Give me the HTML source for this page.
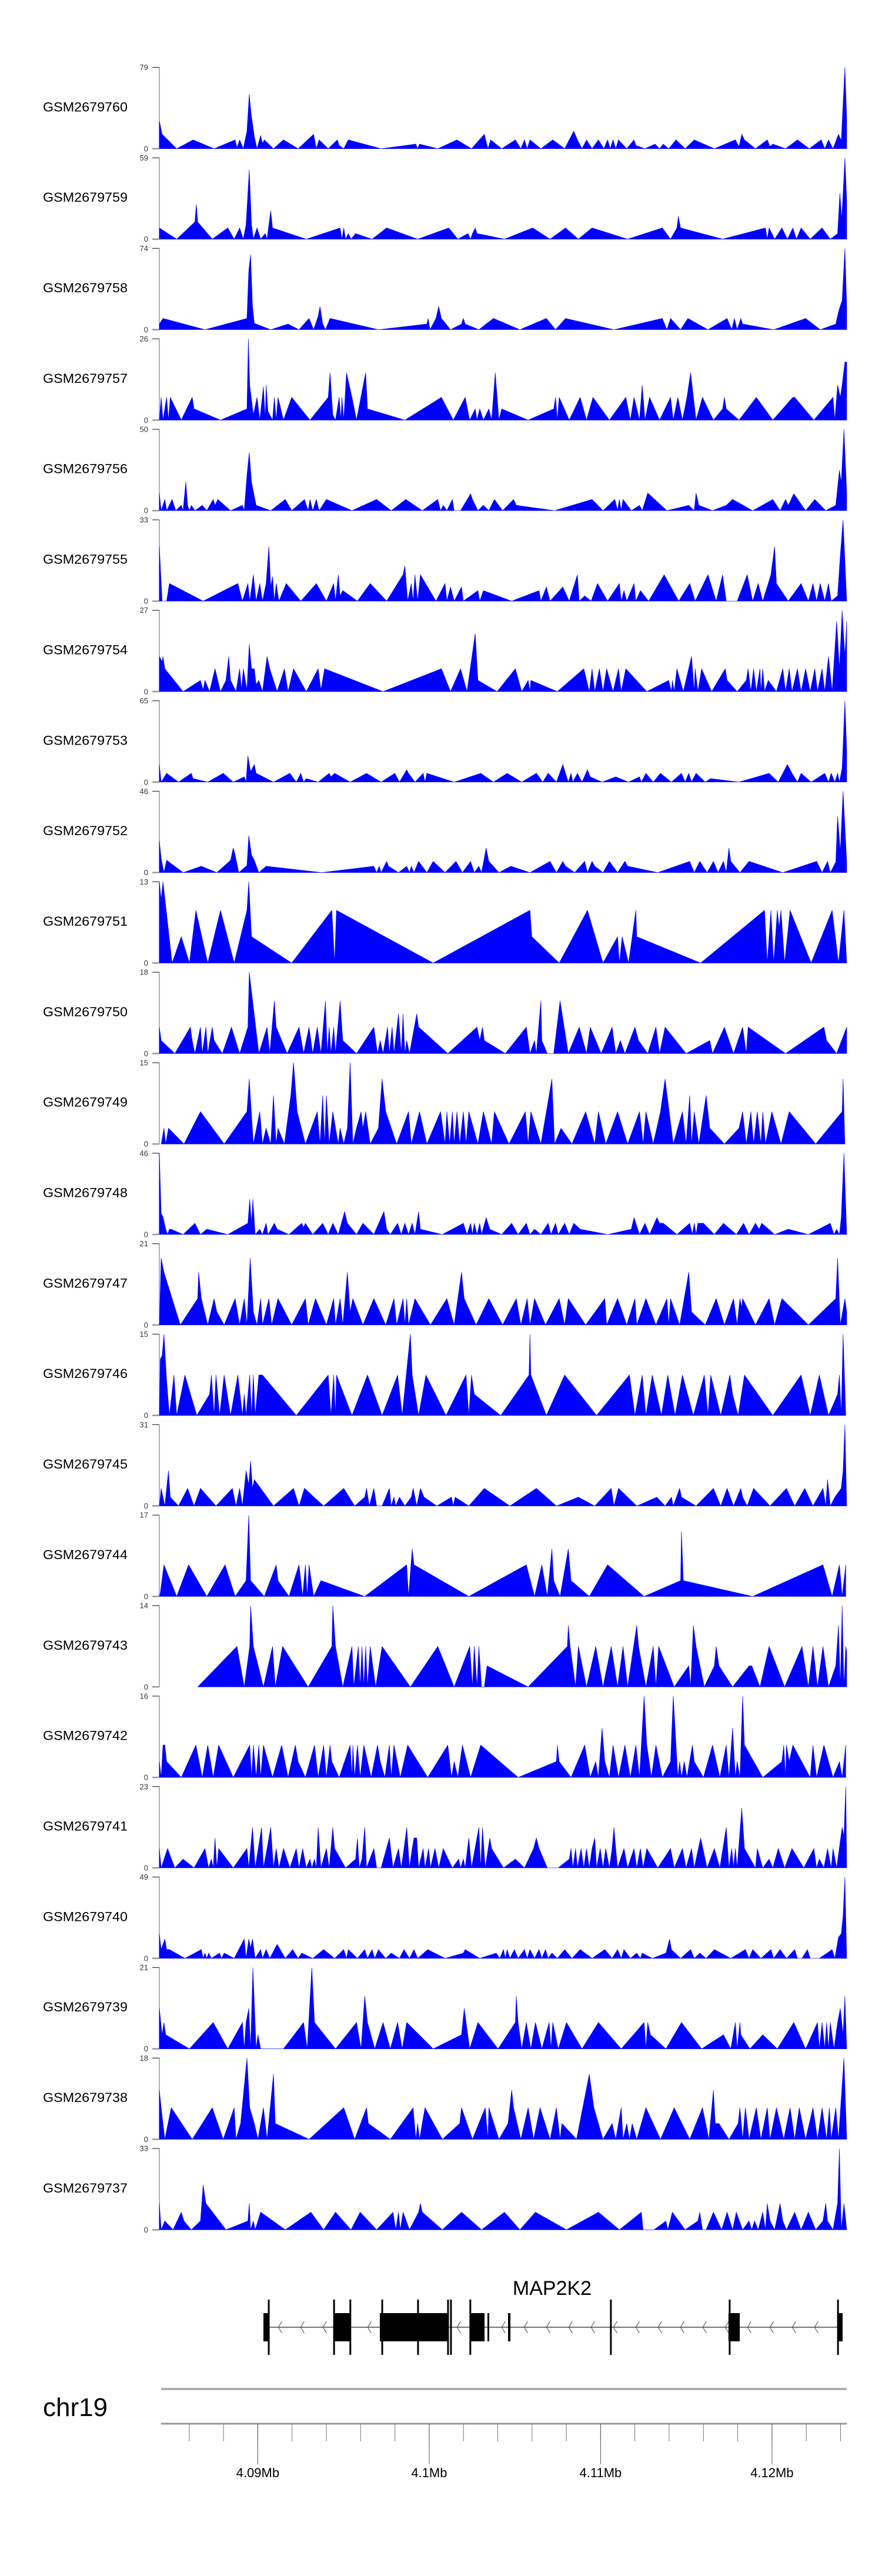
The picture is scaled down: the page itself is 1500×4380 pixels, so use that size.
<!DOCTYPE html>
<html><head><meta charset="utf-8"><title>MAP2K2 coverage tracks</title>
<style>
html,body{margin:0;padding:0;background:#fff;}
svg{display:block;font-family:"Liberation Sans",Arial,sans-serif;}
</style></head>
<body>
<svg id="chart" xmlns="http://www.w3.org/2000/svg" width="1500" height="4380" viewBox="0 0 1500 4380"></svg>
<script>
// sample names and y-axis maxima (top tick labels)
const sampleNames = ["GSM2679760","GSM2679759","GSM2679758","GSM2679757","GSM2679756","GSM2679755","GSM2679754","GSM2679753","GSM2679752","GSM2679751","GSM2679750","GSM2679749","GSM2679748","GSM2679747","GSM2679746","GSM2679745","GSM2679744","GSM2679743","GSM2679742","GSM2679741","GSM2679740","GSM2679739","GSM2679738","GSM2679737"];
const yMax = [79,59,74,26,50,33,27,65,46,13,18,15,46,21,15,31,17,14,16,23,49,21,18,33];
// coverage signals: flat pairs [bin, relative height (231 = track max)] ; bin size ~26.6 bp
const s01=[14,79,20,41,52,0,88,25,134,0,180,25,184,3,190,25,198,0,206,50,211,155,215,100,222,35,228,0,236,38,240,15,244,25,264,0,286,25,318,0,352,41,358,0,364,25,384,0,404,25,408,9,418,0,428,25,500,0,576,13,580,0,584,13,624,0,666,25,698,0,726,41,734,0,740,25,764,0,794,25,806,0,814,25,820,0,826,25,850,0,876,25,902,0,922,50,930,25,940,0,950,25,962,0,976,25,988,0,996,25,1002,0,1008,25,1014,0,1020,25,1038,0,1054,25,1058,9,1078,0,1100,13,1110,0,1118,13,1130,0,1146,25,1166,0,1186,25,1230,0,1276,25,1284,6,1290,41,1296,25,1320,0,1346,25,1352,6,1358,13,1386,0,1412,25,1438,0,1464,25,1472,0,1480,25,1490,0,1502,41,1508,23,1516,231,1520,88];
const s02=[14,32,52,0,92,49,95,99,98,49,130,0,164,32,178,0,190,32,198,0,204,41,211,197,216,41,220,0,228,32,236,0,246,16,250,0,258,81,262,32,336,0,410,32,414,0,418,32,422,0,428,16,434,0,444,16,480,0,512,32,580,0,648,32,668,0,690,16,696,0,700,16,706,32,710,16,770,0,832,32,870,0,904,32,932,0,962,32,1040,0,1116,32,1134,0,1148,32,1151,65,1156,32,1248,0,1342,32,1346,0,1350,32,1362,0,1378,32,1390,0,1402,32,1410,0,1420,32,1440,0,1466,32,1484,0,1500,16,1505,131,1509,56,1516,231,1520,111];
const s03=[14,16,22,32,114,0,206,32,210,168,214,213,218,68,222,18,258,0,296,16,320,0,342,32,352,0,362,38,366,66,372,16,378,0,388,32,494,0,600,16,603,32,607,0,620,32,626,66,632,32,652,0,676,16,680,32,684,16,714,0,746,32,804,0,862,32,882,0,904,32,1010,0,1116,32,1126,0,1134,32,1156,0,1172,32,1216,0,1258,32,1268,0,1274,32,1280,0,1288,32,1292,16,1360,0,1430,32,1462,0,1496,16,1502,50,1506,68,1510,82,1516,231,1520,68];
const s04=[14,0,18,65,22,0,30,65,34,0,38,65,62,0,86,65,90,32,148,0,206,32,209,231,212,100,220,15,228,65,234,0,242,95,246,5,248,100,252,25,262,0,266,65,270,0,274,65,286,0,304,65,344,0,384,65,388,135,394,15,400,0,408,65,412,0,414,65,418,0,424,135,436,65,446,0,460,95,466,135,470,32,552,0,632,65,658,0,684,65,694,0,706,32,710,0,716,32,724,0,736,32,742,0,750,135,758,0,764,32,822,0,878,32,882,65,886,0,890,65,912,0,936,65,950,0,964,65,1000,0,1036,65,1046,0,1054,65,1066,0,1072,100,1078,0,1088,65,1110,0,1134,65,1140,0,1150,65,1160,0,1170,65,1178,135,1190,0,1204,65,1228,0,1248,32,1252,65,1256,32,1284,0,1322,65,1358,0,1402,65,1406,65,1448,0,1490,65,1494,0,1500,100,1506,65,1510,100,1516,165,1520,165];
const s05=[14,50,18,0,26,32,30,0,42,32,50,0,62,15,66,0,72,82,76,15,80,0,84,15,92,0,108,15,118,0,132,32,136,15,142,32,170,0,196,15,200,0,206,100,211,165,216,80,226,15,258,0,290,32,304,0,332,32,340,0,344,32,350,0,358,32,364,0,380,32,436,0,490,32,522,0,554,32,590,0,624,32,630,0,636,15,644,0,656,32,660,0,674,0,696,48,700,32,712,0,724,15,736,0,748,32,766,0,790,32,796,15,880,0,962,32,986,0,1012,32,1018,0,1022,32,1026,0,1030,32,1048,0,1066,15,1072,0,1084,50,1126,0,1174,15,1186,0,1190,50,1196,15,1226,0,1256,15,1270,32,1314,0,1358,32,1374,0,1386,32,1392,15,1404,48,1430,0,1450,32,1474,0,1496,15,1504,115,1508,80,1514,231,1520,50];
const s06=[14,155,20,0,30,0,36,50,110,0,186,50,196,0,208,50,212,0,220,75,226,0,234,50,240,0,248,50,254,155,258,40,262,70,266,0,270,50,276,0,292,50,324,0,358,50,380,0,396,50,400,0,406,75,410,15,416,30,448,0,476,50,512,0,548,75,552,100,558,0,566,50,570,0,574,75,580,0,586,75,620,0,640,50,644,0,652,40,660,0,676,40,680,0,712,30,716,0,724,30,786,0,846,30,850,0,862,40,870,0,898,40,912,0,930,75,934,0,946,15,960,0,974,50,996,0,1022,50,1026,0,1032,30,1038,0,1054,50,1058,0,1068,30,1086,0,1120,75,1152,0,1176,50,1188,0,1216,75,1234,0,1248,75,1256,0,1280,0,1302,75,1314,0,1326,50,1336,0,1354,75,1362,155,1366,50,1392,0,1420,50,1436,0,1446,50,1454,0,1462,50,1472,0,1480,50,1486,0,1500,15,1506,130,1512,231,1520,0];
const s07=[14,100,20,85,22,100,26,65,66,0,104,32,110,5,114,32,124,0,136,65,148,0,160,32,166,100,170,32,182,0,190,65,194,5,198,65,206,5,211,135,216,65,222,65,226,20,232,32,240,0,250,100,256,65,272,0,288,65,296,0,308,65,336,0,362,65,368,5,376,65,504,0,632,65,652,0,674,65,688,0,706,165,712,32,754,0,794,65,808,0,822,32,826,0,828,32,886,0,944,65,956,0,962,65,968,0,978,65,986,0,994,65,1008,0,1020,65,1026,0,1036,65,1082,0,1130,32,1136,0,1138,32,1142,0,1148,65,1162,0,1180,100,1186,0,1188,65,1194,0,1202,65,1224,0,1254,65,1258,32,1280,0,1300,32,1304,65,1310,0,1316,65,1322,0,1330,65,1332,0,1336,65,1340,0,1348,32,1366,0,1380,65,1386,0,1394,65,1400,0,1412,65,1420,0,1430,65,1440,0,1450,65,1456,0,1466,65,1472,0,1480,100,1488,0,1498,200,1504,65,1510,231,1516,100,1520,200];
const s08=[14,50,18,0,30,25,56,0,84,25,88,10,120,0,154,25,176,0,200,15,204,0,208,75,214,30,222,50,226,25,264,0,300,25,314,0,324,25,330,0,336,10,362,0,386,25,390,15,398,25,432,0,468,25,500,0,530,25,540,0,556,35,560,25,574,0,592,25,596,0,600,25,660,0,718,25,746,0,776,25,808,0,840,25,854,0,866,25,884,0,898,50,904,25,910,0,916,25,920,0,930,25,940,0,952,35,958,15,984,0,1014,15,1042,0,1066,15,1070,0,1080,25,1096,0,1112,25,1136,0,1158,25,1166,0,1174,25,1180,0,1190,25,1210,0,1222,10,1284,0,1350,25,1370,0,1390,50,1400,25,1412,0,1420,25,1442,0,1472,25,1480,0,1486,25,1494,0,1500,25,1504,0,1510,40,1516,231,1520,90];
const s09=[14,90,18,40,24,0,30,35,66,0,106,18,140,0,170,35,176,70,180,50,188,0,206,20,210,105,216,50,222,35,232,0,248,18,370,0,484,18,490,0,496,18,500,0,512,32,516,18,538,0,556,18,562,0,566,18,572,0,582,32,600,0,614,32,640,0,664,32,678,0,696,32,704,0,714,18,720,0,730,70,736,32,758,0,784,18,826,0,870,32,884,0,898,32,904,18,924,0,946,32,952,0,962,32,968,18,986,0,1000,32,1018,0,1034,32,1040,18,1106,0,1176,32,1186,0,1198,32,1214,0,1228,32,1238,0,1250,32,1256,0,1262,70,1266,32,1286,0,1306,32,1380,0,1454,32,1466,0,1478,32,1484,0,1496,30,1500,160,1506,60,1512,231,1520,30];
const s10=[14,231,18,180,22,231,42,0,62,75,80,0,94,150,120,0,148,150,178,0,206,150,210,231,216,75,304,0,392,150,398,0,402,150,614,0,826,150,830,75,890,0,952,150,986,0,1018,75,1022,0,1028,75,1042,0,1058,150,1060,75,1200,0,1340,150,1346,0,1354,150,1360,0,1368,150,1372,100,1376,150,1384,0,1396,150,1442,0,1488,150,1502,0,1514,150,1520,0];
const s11=[14,75,18,37,48,0,82,75,86,37,92,0,104,75,108,0,116,75,120,0,130,75,134,37,152,0,172,75,190,0,208,75,211,231,232,0,250,75,256,0,266,150,270,75,294,0,320,75,330,0,342,75,350,0,360,75,368,0,378,150,382,0,386,75,390,0,396,75,400,0,410,150,416,37,446,0,484,75,492,0,498,37,504,0,514,75,518,0,524,75,528,0,538,113,544,0,548,113,552,0,556,37,562,0,578,113,582,75,646,0,710,75,716,37,722,75,726,37,772,0,818,75,826,0,836,37,840,0,850,150,852,37,864,0,878,0,892,150,910,0,934,75,950,0,958,75,982,0,1006,75,1014,0,1024,37,1034,0,1056,75,1064,37,1084,0,1102,75,1110,0,1122,75,1168,0,1220,37,1226,0,1252,75,1272,0,1292,75,1300,0,1304,75,1386,0,1470,75,1476,37,1498,0,1520,75];
const s12=[18,0,24,45,28,0,34,45,68,0,104,92,156,0,206,92,211,185,220,0,234,92,240,0,248,45,258,0,264,138,270,0,274,45,288,0,302,138,308,231,316,92,334,0,360,92,366,0,372,138,376,0,380,138,386,0,394,92,406,0,410,45,418,0,426,45,432,231,438,0,446,45,456,92,460,45,466,92,476,0,494,45,502,185,510,92,534,0,560,92,566,0,584,92,600,0,630,92,640,0,644,92,650,0,656,92,660,0,666,92,672,0,680,92,686,0,692,92,712,0,724,92,742,0,748,92,780,0,816,92,822,0,828,92,850,0,874,185,880,0,894,45,918,0,948,92,968,0,976,92,992,0,1018,92,1040,0,1066,92,1074,0,1080,92,1096,0,1112,92,1122,185,1140,0,1160,92,1168,0,1176,138,1180,0,1186,92,1196,0,1212,138,1220,45,1252,0,1284,45,1292,92,1300,0,1310,92,1316,0,1324,92,1332,0,1336,92,1342,0,1356,92,1376,0,1394,92,1452,0,1510,92,1512,185,1516,0];
const s13=[14,231,18,60,22,50,28,15,32,0,36,15,40,15,66,0,92,32,104,0,118,15,164,0,208,32,212,100,216,32,219,100,224,0,234,15,240,0,248,32,252,0,266,32,272,15,298,0,326,32,330,20,334,32,350,0,372,32,384,0,394,32,406,0,420,65,426,32,446,0,460,32,484,0,506,65,512,15,520,0,536,32,544,0,552,32,560,0,568,32,574,0,582,65,586,15,634,0,680,32,688,0,696,32,700,0,704,32,710,0,716,32,720,0,730,48,738,15,764,0,786,32,800,0,818,32,826,0,836,15,850,0,866,32,872,0,882,32,888,0,902,32,912,0,922,32,936,15,996,0,1048,15,1054,48,1058,32,1066,0,1078,32,1088,0,1104,48,1110,32,1118,32,1148,0,1176,32,1182,0,1186,32,1190,0,1194,32,1206,32,1230,0,1250,32,1278,0,1294,32,1306,0,1320,32,1328,15,1334,32,1362,0,1392,15,1436,0,1484,32,1492,0,1498,15,1504,0,1508,48,1514,231,1520,0];
const s14=[14,0,18,190,24,150,60,0,98,75,100,150,106,75,120,0,134,75,140,37,156,0,180,75,190,0,200,75,206,0,213,190,220,37,228,0,236,75,240,0,254,75,260,0,274,75,304,0,334,75,340,0,356,75,380,0,396,75,400,0,410,75,416,0,426,150,432,37,438,75,460,0,484,75,510,0,528,75,534,0,548,75,552,0,556,75,560,0,574,75,608,0,644,75,652,37,660,0,676,150,682,75,708,0,736,75,766,0,796,75,806,0,820,75,826,0,836,75,860,0,890,75,902,0,910,75,948,0,990,75,994,0,1018,75,1038,0,1056,75,1060,0,1080,75,1102,0,1126,75,1130,0,1134,75,1154,0,1174,150,1180,37,1210,0,1234,75,1252,0,1272,75,1280,0,1286,75,1290,50,1292,75,1320,0,1350,75,1362,0,1378,75,1436,0,1496,75,1500,190,1506,0,1516,75,1520,37];
const s15=[14,0,16,160,20,170,24,231,30,100,36,0,46,115,52,0,70,115,96,0,124,60,128,115,134,0,138,115,146,0,156,115,170,0,186,115,196,0,200,60,204,0,212,115,216,0,220,115,224,0,232,115,240,115,314,0,384,115,390,0,396,115,400,0,402,115,436,0,470,115,502,0,536,115,546,0,564,231,568,115,582,0,598,115,642,0,686,115,692,0,698,115,704,60,762,0,824,115,826,231,828,115,862,0,902,115,972,0,1044,115,1056,0,1072,115,1080,0,1094,115,1114,0,1128,115,1144,0,1160,115,1184,0,1208,115,1216,0,1222,115,1244,0,1264,115,1270,60,1282,0,1296,115,1358,0,1420,115,1440,0,1460,115,1480,0,1500,60,1504,115,1508,0,1512,231,1518,0];
const s16=[14,0,18,50,26,0,34,100,38,25,56,0,76,50,90,0,104,50,138,0,174,50,182,0,190,50,196,0,204,100,210,60,214,128,218,50,222,75,264,0,308,50,320,0,332,50,374,0,418,50,442,0,464,25,468,50,474,0,484,50,490,0,502,0,518,50,522,0,528,25,532,0,540,25,552,0,566,25,570,50,574,25,578,0,586,50,594,25,622,0,654,25,658,0,662,25,692,0,726,50,782,0,840,50,884,0,932,25,968,0,1004,50,1010,0,1020,50,1060,0,1104,25,1122,0,1136,25,1140,0,1154,50,1158,25,1190,0,1228,50,1244,0,1258,50,1272,0,1288,50,1292,25,1302,0,1316,50,1352,0,1388,50,1406,0,1428,50,1446,0,1468,50,1474,0,1478,75,1484,0,1494,25,1508,50,1512,100,1516,231,1520,0];
const s17=[14,0,16,10,24,90,52,0,78,90,118,0,158,90,180,0,204,45,210,231,214,45,244,0,270,90,274,45,298,0,320,90,328,0,334,90,338,0,342,90,352,0,368,45,464,0,556,90,560,0,568,135,572,90,692,0,818,90,836,0,852,90,864,0,874,135,878,45,892,0,910,135,916,45,956,0,996,90,1076,0,1156,45,1158,185,1162,45,1314,0,1468,90,1488,0,1504,90,1510,0,1518,90];
const s18=[98,0,184,115,200,0,212,115,214,231,220,115,242,0,262,115,268,0,284,115,340,0,392,115,394,231,400,115,416,0,436,115,440,0,450,115,454,0,458,115,462,0,466,115,470,0,476,115,488,0,502,115,564,0,624,115,660,0,694,115,700,0,704,115,710,0,714,115,720,0,726,0,732,60,822,0,908,115,910,175,914,115,926,0,932,115,950,0,970,115,986,0,1004,115,1018,0,1030,115,1040,0,1060,175,1064,115,1080,0,1096,115,1102,0,1108,115,1142,0,1174,60,1178,0,1184,175,1190,115,1208,0,1230,60,1234,115,1240,60,1270,0,1306,60,1312,60,1330,0,1350,115,1384,0,1422,115,1436,0,1446,115,1456,0,1468,115,1480,0,1496,60,1502,175,1506,0,1510,231,1514,0,1518,115,1520,100];
const s19=[14,45,18,0,22,92,26,92,30,45,62,0,94,92,108,0,120,92,132,0,144,92,176,0,212,92,216,0,220,92,226,0,232,92,236,0,242,92,262,0,282,92,296,0,312,92,318,45,334,0,354,92,362,0,374,92,380,0,388,92,392,45,408,0,432,92,436,0,438,92,442,0,448,92,454,0,462,92,478,0,492,92,498,45,508,0,518,92,522,0,528,92,542,0,558,92,602,0,646,92,654,0,660,45,668,0,678,92,696,0,718,92,800,0,884,45,886,92,890,45,916,0,946,92,958,0,970,45,976,0,984,140,990,45,1000,0,1008,92,1020,0,1034,92,1046,0,1058,92,1066,0,1076,231,1082,92,1092,0,1102,92,1116,0,1134,45,1140,231,1146,92,1150,0,1154,45,1158,0,1164,45,1170,0,1182,92,1186,45,1206,0,1226,92,1242,0,1256,92,1262,0,1270,140,1276,0,1280,45,1286,0,1292,231,1296,92,1336,0,1378,45,1382,92,1386,0,1388,92,1394,45,1402,92,1440,0,1446,92,1454,0,1470,92,1490,0,1504,45,1510,0,1518,92];
const s20=[14,55,18,0,32,55,48,0,66,25,90,0,114,55,122,0,128,25,132,0,136,85,140,0,144,55,176,0,206,55,210,0,218,115,224,0,238,115,242,0,250,55,258,115,264,0,270,55,276,0,286,55,300,0,314,55,320,0,328,55,336,0,344,25,348,0,354,25,358,0,362,115,368,0,380,55,386,0,394,115,398,55,422,0,444,25,448,85,452,0,458,25,464,115,468,0,484,55,490,0,500,0,518,85,526,0,538,55,544,0,550,55,556,115,562,0,568,55,572,85,578,85,582,0,592,55,596,0,604,55,608,0,618,55,626,0,636,55,656,0,670,25,674,0,680,25,684,0,692,85,698,0,714,115,718,0,722,115,728,0,738,85,742,55,768,0,794,25,814,0,834,55,840,85,846,55,864,0,888,0,912,25,916,55,920,0,926,55,930,0,938,55,944,0,950,55,956,0,962,55,968,85,972,0,980,55,986,0,992,55,1000,0,1006,55,1010,115,1014,55,1018,0,1032,55,1040,0,1054,55,1060,0,1068,55,1074,0,1082,55,1106,0,1134,55,1142,0,1160,55,1168,0,1180,55,1186,0,1200,85,1214,0,1230,55,1242,0,1256,115,1262,0,1268,55,1272,0,1276,55,1280,0,1290,170,1296,55,1320,0,1324,55,1336,0,1350,25,1358,0,1370,55,1384,0,1400,55,1426,0,1448,55,1454,0,1460,25,1470,0,1478,55,1486,0,1490,55,1498,0,1510,115,1514,90,1518,231,1520,0];
const s21=[14,70,18,25,26,55,30,25,36,25,70,0,106,25,110,0,114,15,118,0,122,15,128,0,146,15,150,0,156,15,178,0,200,55,204,0,210,55,214,30,218,55,224,0,236,25,240,0,248,25,256,0,272,40,290,0,306,25,318,0,326,15,350,0,374,25,398,0,418,25,424,0,428,25,448,0,464,25,470,0,480,25,486,0,494,25,510,0,522,15,540,0,550,25,562,0,572,25,580,0,602,25,640,0,680,15,684,25,716,0,752,15,760,0,768,25,772,0,776,25,782,0,792,25,800,0,814,25,820,0,826,25,836,0,846,25,852,0,860,25,866,0,874,15,886,0,902,25,918,0,936,25,962,0,990,25,1006,0,1018,25,1026,0,1032,25,1046,0,1060,15,1068,0,1072,15,1094,0,1124,15,1132,55,1136,25,1156,0,1178,25,1186,0,1198,15,1212,0,1230,25,1266,0,1298,25,1306,0,1314,25,1332,0,1354,25,1360,0,1374,25,1388,0,1406,25,1412,0,1422,0,1434,25,1440,0,1460,0,1488,25,1494,0,1502,60,1508,70,1512,120,1516,231,1520,0];
const s22=[14,115,20,40,24,75,28,40,80,0,132,75,164,0,196,75,200,0,204,75,210,115,214,0,219,231,226,0,230,40,236,0,286,0,330,75,338,0,348,231,354,75,400,0,446,75,456,0,464,150,470,75,486,0,504,75,520,0,536,75,546,0,556,75,614,0,676,40,682,115,694,0,712,75,756,0,794,75,796,150,800,75,808,0,818,75,828,0,838,75,852,0,868,75,872,0,876,75,888,0,906,75,940,0,976,75,1026,0,1076,75,1080,0,1084,75,1090,40,1124,0,1158,75,1202,0,1250,40,1266,0,1276,75,1280,0,1286,75,1288,40,1308,0,1336,40,1368,0,1404,75,1430,0,1456,75,1460,0,1466,75,1472,0,1476,75,1480,0,1484,75,1492,0,1500,75,1506,115,1512,40,1516,150,1520,0];
const s23=[14,140,18,90,26,0,40,90,86,0,130,90,154,0,178,90,182,0,192,45,206,231,212,90,222,45,230,0,242,90,250,0,264,185,268,45,342,0,418,90,442,0,468,90,472,45,520,0,570,90,576,0,580,45,584,0,590,45,596,90,634,0,672,45,676,90,700,0,728,90,734,0,736,90,758,0,778,45,786,140,790,90,806,0,822,90,834,0,848,90,870,0,884,90,892,0,896,45,928,0,956,185,966,90,986,0,1006,45,1014,0,1026,90,1030,0,1038,45,1044,0,1050,45,1060,0,1080,90,1112,0,1142,90,1176,0,1204,90,1218,0,1228,140,1232,45,1240,45,1262,0,1282,45,1286,90,1292,0,1298,90,1306,0,1322,90,1332,0,1346,90,1352,0,1366,90,1382,0,1396,90,1406,0,1416,90,1430,0,1446,90,1456,0,1466,90,1476,0,1482,90,1486,0,1496,90,1502,0,1514,231,1520,0];
const s24=[14,75,18,0,26,25,44,0,62,50,68,25,84,0,104,25,110,128,116,75,160,0,208,25,211,75,214,0,220,25,224,0,236,50,290,0,346,50,374,0,400,50,434,0,454,50,490,0,526,50,532,0,538,50,542,0,548,50,562,0,582,50,586,75,590,50,634,0,676,50,720,0,770,50,804,0,838,50,906,0,976,50,1022,0,1070,50,1074,0,1098,0,1124,25,1128,0,1138,50,1166,0,1194,25,1198,50,1204,0,1212,0,1228,50,1246,0,1258,50,1270,0,1278,50,1292,0,1306,25,1312,0,1318,25,1326,0,1336,50,1342,0,1346,75,1352,25,1362,0,1374,75,1380,25,1388,0,1406,50,1420,0,1436,50,1452,0,1468,25,1474,75,1478,25,1490,0,1500,75,1504,231,1508,0,1514,75,1520,0];
const signals=[s01,s02,s03,s04,s05,s06,s07,s08,s09,s10,s11,s12,s13,s14,s15,s16,s17,s18,s19,s20,s21,s22,s23,s24];
const relFull = 231;
// gene model (kb, genomic)
const exonStart = [4090.33,4094.45,4097.12,4102.40,4103.40,4104.60,4117.46,4123.85];
const exonEnd   = [4090.67,4095.44,4101.10,4103.23,4103.48,4104.74,4118.12,4124.12];
const boundaryLines = [4090.64,4094.45,4095.40,4097.26,4099.35,4101.10,4101.27,4102.40,4110.60,4117.53,4123.85];
const axisTicksKb = [4086,4088,4090,4092,4094,4096,4098,4100,4102,4104,4106,4108,4110,4112,4114,4116,4118,4120,4122,4124];
const majorTicksKb = [4090,4100,4110,4120];
const majorLabels = ["4.09Mb","4.1Mb","4.11Mb","4.12Mb"];

const NS="http://www.w3.org/2000/svg";
const svg=document.getElementById('chart');
function mk(tag,attrs,parent){const e=document.createElementNS(NS,tag);for(const k in attrs)e.setAttribute(k,attrs[k]);(parent||svg).appendChild(e);return e;}
const X0=271,X1=1440,B0=14,B1=1520;
function xBin(b){return Math.max(X0,Math.min(X1,X0+(b-B0)*(X1-X0)/(B1-B0)));}
const KB0=4084.36, PXKB=29.15;
function xKb(k){return 274+(k-KB0)*PXKB;}
const pitch=153.85, firstBase=252.8, trackH=138.2;

for(let i=0;i<signals.length;i++){
  const base=firstBase+i*pitch, top=base-trackH;
  const g=mk('g',{});
  
  
  const lab=mk('text',{x:73,y:(base+top)/2+5.6,'font-size':22,textLength:144,lengthAdjust:'spacingAndGlyphs',fill:'#000'},g);
  lab.textContent=sampleNames[i];
  
  
  const ax=mk('line',{x1:271,y1:top,x2:271,y2:base,stroke:'#999','stroke-width':1.5},g);
  
  
  mk('line',{x1:259,y1:top,x2:271,y2:top,stroke:'#333','stroke-width':1.2},g);
  mk('line',{x1:259,y1:base,x2:271,y2:base,stroke:'#999','stroke-width':2.5},g);
  const t1=mk('text',{x:252,y:top+4.5,'font-size':13,'text-anchor':'end',fill:'#333'},g);
  t1.textContent=yMax[i];
  
  
  const t0=mk('text',{x:252,y:base+4.5,'font-size':13,'text-anchor':'end',fill:'#333'},g);
  t0.textContent='0';
  
  
  const s=signals[i];
  const pts=[];
  for(let j=0;j<s.length;j+=2){
    const val=s[j+1]/relFull*yMax[i];
    pts.push(xBin(s[j]).toFixed(1)+','+(base-val/yMax[i]*trackH).toFixed(1));
  }
  const first=xBin(s[0]).toFixed(1), last=xBin(s[s.length-2]).toFixed(1);
  const poly=mk('polygon',{points:first+','+base+' '+pts.join(' ')+' '+last+','+base,fill:'#0000ff',stroke:'#0000ff','stroke-width':0.6},g);
  
  
}

// gene track
const gg=mk('g',{});


const gl=mk('text',{x:939,y:3902,'font-size':34,'text-anchor':'middle',fill:'#000'},gg);
gl.textContent='MAP2K2';


mk('line',{x1:xKb(exonEnd[0]),y1:3957,x2:xKb(exonStart[7]),y2:3957,stroke:'#222','stroke-width':1.3},gg);
for(let x=xKb(4091.2);x<xKb(4123.6);x+=38){
  mk('polyline',{points:(x+6)+',3947 '+x+',3957 '+(x+6)+',3967',fill:'none',stroke:'#444','stroke-width':1},gg);
}
for(let i=0;i<exonStart.length;i++){
  const x=xKb(exonStart[i]),w=Math.max(3,xKb(exonEnd[i])-x);
  const r=mk('rect',{x:x,y:3933,width:w,height:48,fill:'#000'},gg);
  
  
}
for(const k of boundaryLines){
  mk('line',{x1:xKb(k),y1:3910,x2:xKb(k),y2:4004,stroke:'#000','stroke-width':3},gg);
}

// chromosome axis
const ag=mk('g',{});


const chr=mk('text',{x:73,y:4108,'font-size':44,fill:'#000'},ag);
chr.textContent='chr19';


mk('line',{x1:274,y1:4062,x2:1440,y2:4062,stroke:'#999','stroke-width':3},ag);
mk('line',{x1:274,y1:4121,x2:1440,y2:4121,stroke:'#999','stroke-width':3},ag);
for(const k of axisTicksKb){
  mk('line',{x1:xKb(k),y1:4121,x2:xKb(k),y2:4151,stroke:'#777','stroke-width':1},ag);
}
for(let i=0;i<majorTicksKb.length;i++){
  const x=xKb(majorTicksKb[i]);
  mk('line',{x1:x,y1:4121,x2:x,y2:4190,stroke:'#555','stroke-width':1},ag);
  const t=mk('text',{x:x,y:4212,'font-size':22,'text-anchor':'middle',fill:'#000'},ag);
  t.textContent=majorLabels[i];
  
  
}
</script>
</body></html>
